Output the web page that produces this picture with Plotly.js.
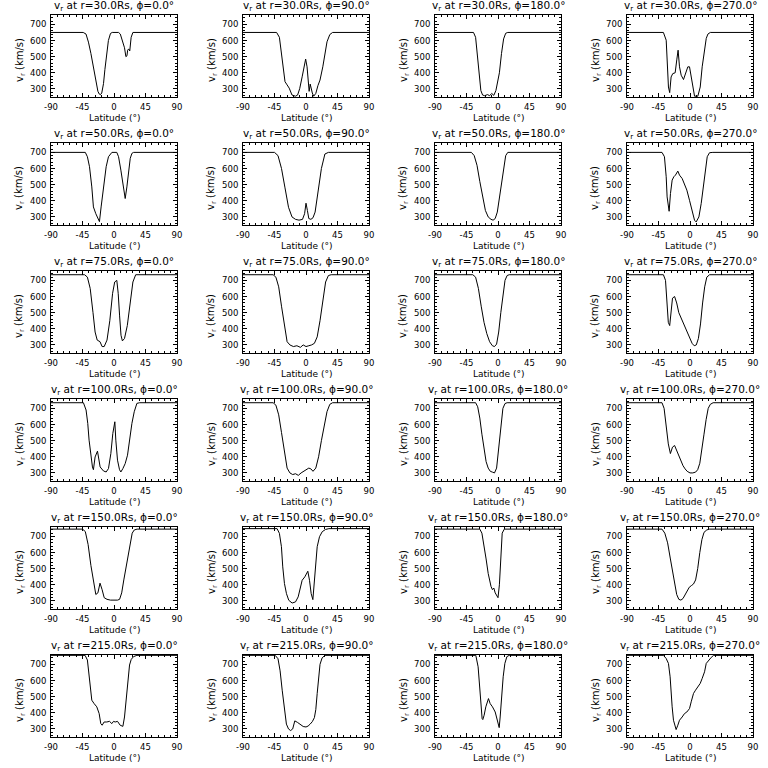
<!DOCTYPE html>
<html>
<head>
<meta charset="utf-8">
<script src="https://cdn.plot.ly/plotly-3.0.1.min.js"></script>
<style>
html,body{margin:0;padding:0;background:#fff;}
#chart{width:768px;height:768px;}
</style>
</head>
<body>
<div id="chart"></div>
<script>
// ---- labels ----
const radii = ['30.0', '50.0', '75.0', '100.0', '150.0', '215.0'];
const phis = ['0.0', '90.0', '180.0', '270.0'];
const xTickVals = [-90, -45, 0, 45, 90];
const yTickVals = [300, 400, 500, 600, 700];

// ---- r = 30 Rs ----
const lat_r30_p0 = [-90,-44,-40,-36.5,-33,-29.5,-26,-23,-21,-19.5,-17.5,-15,-13,-11,-8,-5,-2.5,0,6.5,9,11,13,15,17,18.5,19.5,21,22.5,24.5,27,90];
const v_r30_p0 = [650,650,640,590,520,430,340,285,268,264,275,333,420,480,600,644,650,650,650,640,615,585,555,500,505,540,548,535,620,650,650];
const lat_r30_p90 = [-90,-42,-38,-35,-33,-30,-27,-24,-20,-15,-12,-9,-5.5,-3,-0.5,1.5,3,4.5,6,7.5,9,11,14,17,20,24,27,30,34,38,90];
const v_r30_p90 = [650,650,620,520,420,345,325,305,262,255,262,302,375,437,485,437,333,285,330,300,275,255,272,320,355,437,520,592,637,650,650];
const lat_r30_p180 = [-90,-35,-32,-29,-27,-24.5,-22,-19,-15,-12,-9,-6,-3,0,2,5,8,11,14,90];
const v_r30_p180 = [650,650,620,500,380,290,262,258,265,258,272,260,290,350,400,520,610,645,650,650];
const lat_r30_p270 = [-90,-38,-34,-32.7,-30.8,-29,-27,-24.6,-21.2,-18.9,-17,-15,-12.6,-9.3,-6.4,-3.1,-0.7,1.7,4.1,6.5,11.2,14.6,17.4,20.8,23.2,25.6,29,90];
const v_r30_p270 = [650,650,602,437,312,277,374,395,400,480,540,437,385,358,395,437,437,374,291,255,255,312,437,540,613,640,650,650];

// ---- r = 50 Rs ----
const lat_r50_p0 = [-90,-41,-38,-35,-31.7,-29.4,-26,-23,-20.8,-18.4,-15,-11.2,-7.9,-4.5,-3,4,6.5,9.8,12.7,16,18.4,20.8,23.2,25.6,28,90];
const v_r50_p0 = [700,700,673,611,486,362,320,289,271,362,486,611,673,698,700,700,673,590,507,414,486,590,663,694,700,700];
const lat_r50_p90 = [-90,-45,-40,-35,-30,-25,-20,-15,-10,-5,-2,0,2,4,7,10,13,17,22,27,32,90];
const v_r50_p90 = [700,700,680,600,480,360,300,285,280,285,320,385,340,290,285,295,330,440,600,690,700,700];
const lat_r50_p180 = [-90,-38,-34,-30,-26,-22,-18,-14,-10,-7,-4,-1,2,5,8,11,14,18,90];
const v_r50_p180 = [700,700,680,620,520,420,340,300,285,280,290,330,420,530,620,680,700,700,700];
const lat_r50_p270 = [-90,-40,-36.5,-34,-32.7,-31.3,-29.8,-27.9,-25.5,-23.1,-20.8,-17.4,-15,-11.2,-7.9,-4.5,-0.7,3.1,6.5,8.8,12.7,16,19.3,22.2,24.6,27.9,32.7,90];
const v_r50_p270 = [700,700,673,549,424,362,335,445,528,549,559,584,559,538,507,466,403,331,279,269,300,383,507,611,673,698,700,700];

// ---- r = 75 Rs ----
const lat_r75_p0 = [-90,-42,-38,-34,-30,-27,-24,-20,-17,-14,-10,-6,-2,1,4,6,8,10,12,15,19,23,27,31,90];
const v_r75_p0 = [735,735,720,650,500,380,330,320,290,290,330,450,620,690,700,620,480,360,325,340,420,560,690,735,735];
const lat_r75_p90 = [-90,-47,-43,-39,-35,-31,-27,-23,-18,-13,-8,-4,0,4,8,12,16,20,24,28,32,36,90];
const v_r75_p90 = [735,735,720,660,540,420,320,300,290,295,285,300,290,295,300,310,350,450,580,690,730,735,735];
const lat_r75_p180 = [-90,-36,-32,-28,-24,-20,-16,-12,-8,-5,-2,1,4,7,10,13,16,90];
const v_r75_p180 = [735,735,720,650,540,440,370,320,295,290,305,380,500,620,700,730,735,735];
const lat_r75_p270 = [-90,-38,-35,-33,-31,-29,-27,-25,-22,-19,-16,-12,-8,-4,0,3,6,9,12,15,18,21,24,28,90];
const v_r75_p270 = [735,735,700,560,440,420,520,590,600,560,500,460,420,380,340,310,295,300,340,430,560,660,720,735,735];

// ---- r = 100 Rs ----
const lat_r100_p0 = [-90,-43.7,-39.9,-37.5,-35.6,-33.2,-30.8,-29.4,-27,-23.6,-22.2,-19.8,-15,-11.2,-7.9,-4.5,-1.7,1.2,2.6,5,7.9,9.8,12.7,16,19.3,22.2,25.6,28.9,32.7,36.5,90];
const v_r100_p0 = [735,735,690,607,503,399,337,320,399,435,399,337,312,306,327,420,544,617,503,379,320,306,327,358,410,503,607,679,731,735,735];
const lat_r100_p90 = [-90,-47,-43,-39,-35,-31,-27,-23,-19,-15,-11,-7,-3,0,4,7,10,14,18,22,26,30,34,38,90];
const v_r100_p90 = [735,735,720,660,550,430,330,300,290,295,285,300,310,320,330,325,310,330,400,500,600,680,725,735,735];
const lat_r100_p180 = [-90,-32,-29,-26,-23,-20,-17,-14,-11,-8,-5,-2,1,4,7,10,13,90];
const v_r100_p180 = [735,735,710,640,540,440,370,330,310,305,300,330,450,600,700,730,735,735];
const lat_r100_p270 = [-90,-40,-37,-34,-31,-28,-25,-22,-19,-16,-13,-10,-7,-4,0,4,8,11,14,17,20,23,26,29,33,90];
const v_r100_p270 = [735,735,700,600,480,420,460,470,440,400,370,345,325,310,300,300,305,320,360,440,540,630,700,725,735,735];

// ---- r = 150 Rs ----
const lat_r150_p0 = [-90,-45,-41,-37,-33,-29,-26,-23,-20,-17,-14,-10,-5,0,5,8,11,14,17,20,23,26,29,33,90];
const v_r150_p0 = [745,745,730,650,520,400,340,350,410,370,320,310,305,305,305,310,350,430,500,560,650,720,740,745,745];
const lat_r150_p90 = [-90,-41.3,-38,-35.1,-33.2,-30.8,-27.9,-24.6,-19.8,-15,-11.2,-7.9,-5.5,-1.7,2.6,5,7.4,9.8,11.7,13.6,16,19.3,23.2,27.9,32.7,90];
const v_r150_p90 = [748,748,719,636,511,408,345,304,287,294,325,387,428,449,484,428,345,308,408,532,636,698,729,743,748,748];
const lat_r150_p180 = [-90,-26,-23,-20,-17,-14,-12,-10,-8,-6,-4,-2,0,2,4,6,9,90];
const v_r150_p180 = [745,745,720,650,560,470,420,390,370,380,350,330,320,400,600,720,745,745];
const lat_r150_p270 = [-90,-40,-36,-32,-28,-25,-22,-19,-16,-13,-10,-7,-4,-1,2,5,8,11,14,17,20,24,28,90];
const v_r150_p270 = [745,745,720,660,560,480,400,340,310,305,315,340,370,385,395,405,430,500,600,680,725,740,745,745];

// ---- r = 215 Rs ----
const lat_r215_p0 = [-90,-41.3,-38,-36,-34.1,-31.7,-28.4,-24.6,-21.2,-18.9,-16.9,-14.1,-10.3,-6.4,-3.1,-0.7,1.7,5,8.8,12.7,15,17.4,19.8,22.2,24.6,27.9,32.7,90];
const v_r215_p0 = [756,756,727,644,540,478,457,437,395,333,323,343,343,347,333,347,343,347,323,316,374,499,623,696,731,748,756,756];
const lat_r215_p90 = [-90,-44,-40,-37,-34,-31,-28,-25,-22,-19,-16,-12,-8,-4,0,3,6,9,12,14,16,18,20,23,27,90];
const v_r215_p90 = [756,756,735,660,540,420,330,300,290,300,350,340,325,315,312,318,330,345,370,420,520,620,700,740,756,756];
const lat_r215_p180 = [-90,-31.7,-28.4,-26,-24.6,-22.7,-21.7,-19.8,-17.4,-15,-13.6,-11.2,-7.9,-4,-1.7,0.3,1.7,3.1,5,7.4,9.8,12.7,16,90];
const v_r215_p180 = [756,756,685,540,437,364,358,385,437,468,488,457,437,405,364,323,308,374,499,623,706,748,756,756];
const lat_r215_p270 = [-90,-38,-34.1,-30.8,-28.4,-27,-25.5,-23.6,-21.2,-19.8,-17.4,-15,-11.2,-7.9,-4.5,-0.7,1.7,5,7.9,11.2,14.6,17.4,20.8,23.2,26.5,30.3,33.7,90];
const v_r215_p270 = [756,756,737,706,623,520,437,354,308,296,323,354,374,395,405,426,468,520,540,561,582,613,654,706,727,743,756,756];

const panels = [
  [[lat_r30_p0, v_r30_p0], [lat_r30_p90, v_r30_p90], [lat_r30_p180, v_r30_p180], [lat_r30_p270, v_r30_p270]],
  [[lat_r50_p0, v_r50_p0], [lat_r50_p90, v_r50_p90], [lat_r50_p180, v_r50_p180], [lat_r50_p270, v_r50_p270]],
  [[lat_r75_p0, v_r75_p0], [lat_r75_p90, v_r75_p90], [lat_r75_p180, v_r75_p180], [lat_r75_p270, v_r75_p270]],
  [[lat_r100_p0, v_r100_p0], [lat_r100_p90, v_r100_p90], [lat_r100_p180, v_r100_p180], [lat_r100_p270, v_r100_p270]],
  [[lat_r150_p0, v_r150_p0], [lat_r150_p90, v_r150_p90], [lat_r150_p180, v_r150_p180], [lat_r150_p270, v_r150_p270]],
  [[lat_r215_p0, v_r215_p0], [lat_r215_p90, v_r215_p90], [lat_r215_p180, v_r215_p180], [lat_r215_p270, v_r215_p270]]
];

const W = 768, H = 768;
const FONT = 'DejaVu Sans, sans-serif';
const traces = [];
const layout = {
  width: W, height: H,
  margin: {l: 0, r: 0, t: 0, b: 0},
  paper_bgcolor: '#ffffff', plot_bgcolor: '#ffffff',
  showlegend: false,
  annotations: [],
  font: {family: FONT, color: '#000', size: 9}
};

for (let r = 0; r < 6; r++) {
  for (let c = 0; c < 4; c++) {
    const k = r * 4 + c + 1;
    const xn = 'x' + k, yn = 'y' + k;
    const xl = 51 + 192 * c, xr = 177 + 192 * c;
    const yt = 14.7 + 128 * r, yb = 97 + 128 * r;
    const d = panels[r][c];
    traces.push({
      x: d[0], y: d[1], type: 'scatter', mode: 'lines',
      xaxis: xn, yaxis: yn,
      line: {color: '#000', width: 1}, hoverinfo: 'skip'
    });
    const common = {
      showline: true, linecolor: '#000', linewidth: 1, mirror: 'ticks',
      ticks: 'inside', ticklen: 4, tickwidth: 1, tickcolor: '#000',
      showgrid: false, zeroline: false, fixedrange: true,
      tickfont: {family: FONT, size: 8.5, color: '#000'}
    };
    layout['xaxis' + k] = Object.assign({}, common, {
      domain: [xl / W, xr / W], anchor: yn, range: [-90, 90],
      tickmode: 'array', tickvals: xTickVals, ticktext: xTickVals.map(String),
      minor: {ticks: 'inside', ticklen: 2, dtick: 9, tick0: 0, tickcolor: '#000'},
      ticklabelstandoff: 2
    });
    layout['yaxis' + k] = Object.assign({}, common, {
      domain: [1 - yb / H, 1 - yt / H], anchor: xn, range: [250, 760],
      tickmode: 'array', tickvals: yTickVals, ticktext: yTickVals.map(String),
      minor: {ticks: 'inside', ticklen: 2, dtick: 20, tick0: 0, tickcolor: '#000'},
      ticklabelstandoff: 2
    });
    const cx = (xl + xr) / 2 / W;
    layout.annotations.push({
      xref: 'paper', yref: 'paper', x: cx, y: 1 - (6 + 128 * r) / H,
      xanchor: 'center', yanchor: 'middle', showarrow: false,
      text: 'v<sub>r</sub> at r=' + radii[r] + 'Rs, ϕ=' + phis[c] + '°',
      font: {family: FONT, size: 10.5, color: '#000'}
    });
    layout.annotations.push({
      xref: 'paper', yref: 'paper', x: cx, y: 1 - (118 + 128 * r) / H,
      xanchor: 'center', yanchor: 'middle', showarrow: false,
      text: 'Latitude (°)',
      font: {family: FONT, size: 9, color: '#000'}
    });
    layout.annotations.push({
      xref: 'paper', yref: 'paper', x: (20 + 192 * c) / W, y: 1 - (60 + 128 * r) / H,
      xanchor: 'center', yanchor: 'middle', showarrow: false, textangle: -90,
      text: 'v<sub>r</sub> (km/s)',
      font: {family: FONT, size: 10, color: '#000'}
    });
  }
}

Plotly.newPlot('chart', traces, layout, {staticPlot: true, displayModeBar: false});
</script>
</body>
</html>
